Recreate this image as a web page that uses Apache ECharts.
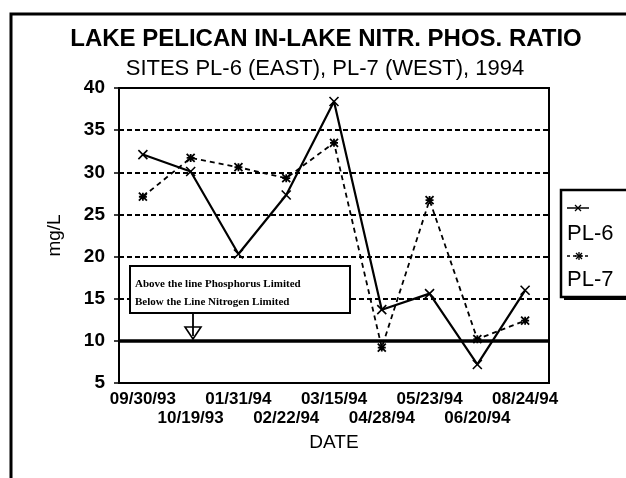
<!DOCTYPE html>
<html>
<head>
<meta charset="utf-8">
<script src="https://cdn.jsdelivr.net/npm/echarts@6/dist/echarts.min.js"></script>
<style>
  html, body { margin: 0; padding: 0; background: #fff; }
  #ec { width: 626px; height: 478px; }
</style>
</head>
<body>
<div id="ec"></div>
<script>
// chart data
var dates = ['09/30/93', '10/19/93', '01/31/94', '02/22/94', '03/15/94', '04/28/94', '05/23/94', '06/20/94', '08/24/94']
var pl6 = [32.1, 30.1, 20.3, 27.3, 38.4, 13.7, 15.6, 7.2, 16.0]
var pl7 = [27.1, 31.7, 30.6, 29.3, 33.5, 9.2, 26.7, 10.2, 12.4]
var limitLine = 10
var noteLines = ['Above the line Phosphorus Limited', 'Below the Line Nitrogen Limited']

var FONT = 'Liberation Sans, Arial, sans-serif'
var xMark = 'path://M0,0L10,10M10,0L0,10'
var starMark = 'path://M0,0L10,10M10,0L0,10M5,0L5,10M0,5L10,5'

// little helper for the hand drawn legend/note strokes
function seg(x1, y1, x2, y2, w, dash) {
  return {
    type: 'line',
    z: 11,
    shape: { x1: x1, y1: y1, x2: x2, y2: y2 },
    style: { stroke: '#000', lineWidth: w || 1.5, lineDash: dash || null }
  }
}

var chart = echarts.init(document.getElementById('ec'))

chart.setOption({
  backgroundColor: '#fff',
  animation: false,
  title: [
    {
      text: 'LAKE PELICAN IN-LAKE NITR. PHOS. RATIO',
      left: 321,
      top: 22,
      textAlign: 'center',
      textStyle: { fontFamily: FONT, fontSize: 24, fontWeight: 'bold', color: '#000' }
    },
    {
      text: 'SITES PL-6 (EAST), PL-7 (WEST), 1994',
      left: 320,
      top: 53,
      textAlign: 'center',
      textStyle: { fontFamily: FONT, fontSize: 22, fontWeight: 'normal', color: '#000' }
    }
  ],
  grid: {
    left: 119,
    right: 77,
    top: 88,
    bottom: 95,
    show: true,
    borderColor: '#000',
    borderWidth: 2
  },
  xAxis: {
    type: 'category',
    data: dates,
    boundaryGap: true,
    name: 'DATE',
    nameLocation: 'middle',
    nameGap: 46,
    nameTextStyle: { fontFamily: FONT, fontSize: 19, color: '#000' },
    axisLine: { lineStyle: { color: '#000', width: 2 } },
    axisTick: { alignWithLabel: true, length: 5, lineStyle: { color: '#000', width: 1.5 } },
    axisLabel: {
      interval: 0,
      margin: 7,
      color: '#000',
      fontFamily: FONT,
      fontSize: 17,
      fontWeight: 'bold',
      lineHeight: 19,
      formatter: function (v, i) {
        return i % 2 ? '\n' + v : v
      }
    },
    splitLine: { show: false }
  },
  yAxis: {
    type: 'value',
    min: 5,
    max: 40,
    interval: 5,
    name: 'mg/L',
    nameLocation: 'middle',
    nameRotate: 90,
    nameGap: 55,
    nameTextStyle: { fontFamily: FONT, fontSize: 19, color: '#000' },
    axisLine: { show: true, lineStyle: { color: '#000', width: 2 } },
    axisTick: { show: true, length: 5, lineStyle: { color: '#000', width: 1.5 } },
    axisLabel: {
      margin: 14,
      color: '#000',
      fontFamily: FONT,
      fontSize: 19,
      fontWeight: 'bold'
    },
    splitLine: {
      show: true,
      lineStyle: { color: '#000', width: 2, type: [5, 3] }
    }
  },
  series: [
    {
      name: 'PL-7',
      type: 'line',
      data: pl7,
      symbol: starMark,
      symbolSize: 8,
      z: 3,
      lineStyle: { color: '#000', width: 1.8, type: [5, 4] },
      itemStyle: { color: '#000', borderColor: '#000', borderWidth: 1.8 },
      markLine: {
        silent: true,
        symbol: 'none',
        label: { show: false },
        lineStyle: { color: '#000', width: 3.5, type: 'solid' },
        data: [{ yAxis: limitLine }]
      }
    },
    {
      name: 'PL-6',
      type: 'line',
      data: pl6,
      symbol: xMark,
      symbolSize: 9,
      z: 4,
      lineStyle: { color: '#000', width: 2.2, type: 'solid' },
      itemStyle: { color: '#000', borderColor: '#000', borderWidth: 1.6 }
    }
  ],
  graphic: [
    // outer frame of the scanned page
    {
      type: 'rect',
      z: 1,
      silent: true,
      shape: { x: 11, y: 14, width: 700, height: 600 },
      style: { fill: 'none', stroke: '#000', lineWidth: 3 }
    },
    // note box
    {
      type: 'rect',
      z: 10,
      shape: { x: 130, y: 266, width: 220, height: 47 },
      style: { fill: '#fff', stroke: '#000', lineWidth: 2 }
    },
    {
      type: 'text',
      x: 135,
      y: 275,
      z: 11,
      style: {
        text: noteLines.join('\n'),
        font: 'bold 11px "Liberation Serif", serif',
        lineHeight: 18,
        fill: '#000'
      }
    },
    seg(193, 313, 193, 336, 1.8),
    {
      type: 'polygon',
      z: 10,
      shape: { points: [[185, 327], [201, 327], [193, 339]] },
      style: { fill: 'none', stroke: '#000', lineWidth: 1.6 }
    },
    // legend box
    {
      type: 'rect',
      z: 9,
      shape: { x: 564, y: 193, width: 80, height: 107 },
      style: { fill: '#000' }
    },
    {
      type: 'rect',
      z: 10,
      shape: { x: 561, y: 190, width: 80, height: 107 },
      style: { fill: '#fff', stroke: '#000', lineWidth: 2.5 }
    },
    seg(567, 208, 589, 208, 1.5),
    seg(575, 205, 581, 211, 1.3),
    seg(581, 205, 575, 211, 1.3),
    {
      type: 'text',
      x: 567,
      y: 223,
      z: 11,
      style: { text: 'PL-6', font: '22px "Liberation Sans", Arial, sans-serif', fill: '#000' }
    },
    seg(567, 256, 589, 256, 1.5, [3, 3]),
    seg(576, 253, 582, 259, 1.3),
    seg(582, 253, 576, 259, 1.3),
    seg(579, 252, 579, 260, 1.3),
    seg(575, 256, 583, 256, 1.3),
    {
      type: 'text',
      x: 567,
      y: 269,
      z: 11,
      style: { text: 'PL-7', font: '22px "Liberation Sans", Arial, sans-serif', fill: '#000' }
    }
  ]
})

window.addEventListener('resize', function () {
  chart.resize()
})
</script>
</body>
</html>
